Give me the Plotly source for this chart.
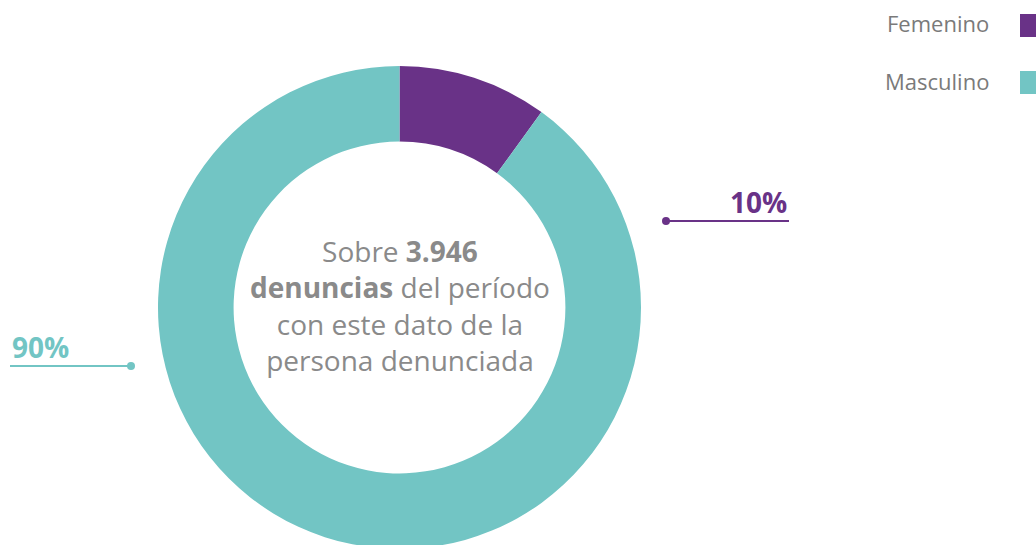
import plotly.graph_objects as go

W, H = 1036, 549  # window is 545 tall; ring bottom is cropped by the window as in the reference

labels = ["Femenino", "Masculino"]
values = [10, 90]
pct_labels = ["10%", "90%"]
colors = ["#693287", "#72C5C4"]
center_lines = ["Sobre <b>3.946</b>", "<b>denuncias</b> del período", "con este dato de la", "persona denunciada"]

def px(x):
    return x / W

def py(y):
    return 1 - y / H

FONT = "Open Sans"
GRAY = "#8a8a8a"

fig = go.Figure()
fig.add_trace(go.Pie(
    labels=labels, values=values, hole=0.687, sort=False, direction="clockwise",
    rotation=0, marker=dict(colors=colors, line=dict(width=0)),
    textinfo="none", hoverinfo="label+percent", showlegend=False,
    domain=dict(x=[px(158), px(641)], y=[0, py(66)]),
))

shapes = []
annotations = []

# center text
annotations.append(dict(
    x=px(400), y=py(305), xref="paper", yref="paper", showarrow=False,
    text="<br>".join(center_lines), align="center",
    font=dict(family=FONT, size=28, color=GRAY), xanchor="center", yanchor="middle",
))

# callouts: (label index, line x0, x1, y, dot x, text anchor x, side)
callouts = [
    (0, 666, 789, 221, 666, 789, "right"),
    (1, 10, 131, 366, 131, 10, "left"),
]
for idx, x0, x1, y, dx, tx, side in callouts:
    c = colors[idx]
    shapes.append(dict(type="line", xref="paper", yref="paper",
                       x0=px(x0), x1=px(x1), y0=py(y), y1=py(y),
                       line=dict(color=c, width=2)))
    shapes.append(dict(type="circle", xref="paper", yref="paper",
                       x0=px(dx - 4), x1=px(dx + 4), y0=py(y - 4), y1=py(y + 4),
                       fillcolor=c, line=dict(width=0)))
    annotations.append(dict(
        x=px(tx), y=py(y + 2), xref="paper", yref="paper", showarrow=False,
        text="<b>" + pct_labels[idx] + "</b>", xanchor=side, yanchor="bottom",
        font=dict(family=FONT, size=28, color=c),
    ))

# custom legend (text left of swatch)
leg_y = [25.5, 82.5]
leg_text_y = [23, 81]
for i, lab in enumerate(labels):
    annotations.append(dict(
        x=px(991), y=py(leg_text_y[i]), xref="paper", yref="paper", showarrow=False,
        text=lab, xanchor="right", yanchor="middle",
        font=dict(family=FONT, size=22, color="#7a7a7a"),
    ))
    shapes.append(dict(type="rect", xref="paper", yref="paper",
                       x0=px(1020), x1=px(1043), y0=py(leg_y[i] - 11.5), y1=py(leg_y[i] + 11.5),
                       fillcolor=colors[i], line=dict(width=0)))

fig.update_layout(
    width=W, height=H, margin=dict(l=0, r=0, t=0, b=0),
    paper_bgcolor="white", plot_bgcolor="white",
    shapes=shapes, annotations=annotations, showlegend=False,
)

fig.write_html("out.html", config={"displayModeBar": False},
               post_script="document.body.style.margin='0';document.body.style.overflow='hidden';")
